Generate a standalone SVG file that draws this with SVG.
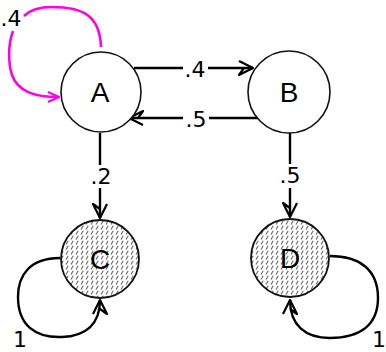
<svg xmlns="http://www.w3.org/2000/svg" width="386" height="352" viewBox="0 0 386 352">
<style>
.node{fill:#fff;stroke:#111;stroke-width:1.6}
.hatched{fill:url(#hatch);stroke:#111;stroke-width:1.8}
.lbl{font-family:"Liberation Sans",Arial,sans-serif;font-size:28px;fill:#000;text-anchor:middle}
.elbl{font-family:"DejaVu Sans","Liberation Sans",sans-serif;font-size:22px;fill:#000;text-anchor:middle}
.edge{fill:none;stroke:#000;stroke-width:2.4}
.loopm{fill:none;stroke:#ff00e6;stroke-width:2.6}
</style>
<defs>
<pattern id="hatch" patternUnits="userSpaceOnUse" width="5" height="5">
<rect width="5" height="5" fill="#fff"/>
<line x1="1" y1="4.5" x2="3.2" y2="0.8" stroke="#666" stroke-width="1.1"/>
</pattern>
<marker id="arr" viewBox="0 0 16 16" refX="15" refY="8" markerWidth="16" markerHeight="16" markerUnits="userSpaceOnUse" orient="auto">
<polyline points="1,1 15,8 1,15 6,8" fill="none" stroke="#000" stroke-width="2.2" stroke-linejoin="round"/>
</marker>
<marker id="arrm" viewBox="0 0 14 14" refX="13" refY="7" markerWidth="14" markerHeight="14" markerUnits="userSpaceOnUse" orient="auto">
<polyline points="2,2 13,7 2,12" fill="none" stroke="#ff00e6" stroke-width="2.2" stroke-linejoin="round"/>
</marker>
</defs>
<rect width="386" height="352" fill="#fff"/>
<g id="connectors">
<path class="loopm" d="M101,47 C100,15 82,7 52,7 C38,7 30,10 24,16"/>
<path class="loopm" d="M13,31 C8,45 8,62 12,75 C18,92 35,97 59,97" marker-end="url(#arrm)"/>
<text class="elbl" x="11" y="26">.4</text>
<path class="edge" d="M134,68 L183,68"/>
<path class="edge" d="M208,68 L253,68" marker-end="url(#arr)"/>
<text class="elbl" x="195" y="77">.4</text>
<path class="edge" d="M261,118 L209,118"/>
<path class="edge" d="M183,118 L129,118" marker-end="url(#arr)"/>
<text class="elbl" x="196" y="127">.5</text>
<path class="edge" d="M100,133 L100,165"/>
<path class="edge" d="M100,188 L100,218" marker-end="url(#arr)"/>
<text class="elbl" x="101" y="184">.2</text>
<path class="edge" d="M290,133 L290,164"/>
<path class="edge" d="M290,188 L290,217" marker-end="url(#arr)"/>
<text class="elbl" x="290" y="183">.5</text>
<path class="edge" d="M60,258 C30,258 18,275 18,297 C18,325 35,338 62,337 C85,336 100,325 100,300" marker-end="url(#arr)"/>
<text class="elbl" x="20" y="347">1</text>
<path class="edge" d="M330,256 C360,256 378,270 378,298 C378,325 360,338 330,338 C305,338 290,325 290,300" marker-end="url(#arr)"/>
<text class="elbl" x="379" y="347">1</text>
</g>
<g id="node-A"><circle class="node" cx="101" cy="92" r="40"/><text class="lbl" x="100" y="102">A</text></g>
<g id="node-B"><circle class="node" cx="289" cy="92" r="41"/><text class="lbl" x="289" y="102">B</text></g>
<g id="node-C"><circle class="hatched" cx="100" cy="259" r="39"/><text class="lbl" x="100" y="269">C</text></g>
<g id="node-D"><circle class="hatched" cx="290" cy="258" r="39"/><text class="lbl" x="290" y="268">D</text></g>
</svg>
